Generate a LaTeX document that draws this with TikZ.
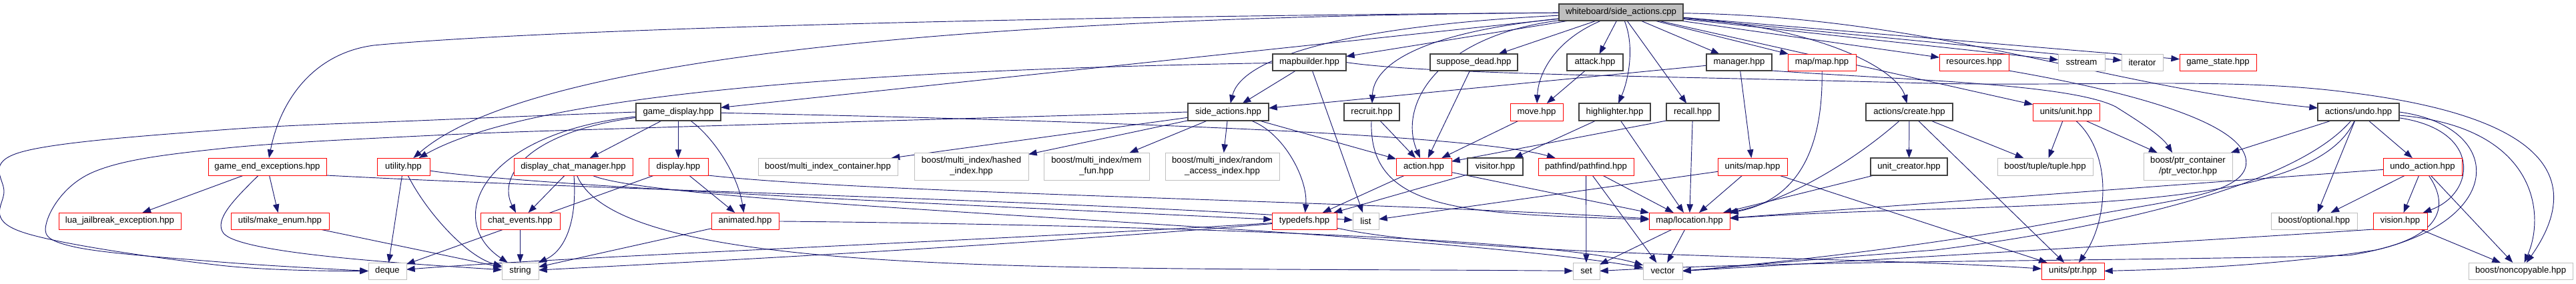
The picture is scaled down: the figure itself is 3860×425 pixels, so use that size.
\documentclass[tikz,border=0pt]{standalone}
\usepackage{fontspec}
\setmainfont{Liberation Sans}
\usetikzlibrary{arrows.meta}
\pgfdeclarelayer{bg}
\pgfsetlayers{bg,main}
\definecolor{edgecol}{HTML}{191970}
\definecolor{grayb}{HTML}{BFBFBF}
\definecolor{darkb}{HTML}{404040}
\definecolor{redb}{HTML}{FF0000}
\definecolor{rootfill}{HTML}{BFBFBF}
\tikzset{
  nbase/.style={fill=white, inner sep=0pt, outer sep=0pt, align=center, font=\fontsize{9.87pt}{12pt}\selectfont},
  blk/.style={nbase, draw=darkb, line width=0.85pt},
  rdb/.style={nbase, draw=redb, line width=0.6pt},
  gry/.style={nbase, draw=grayb, line width=0.75pt},
  rootst/.style={nbase, draw=darkb, fill=rootfill, line width=0.85pt},
  e/.style={draw=edgecol, line width=0.7pt, -{Triangle[length=9.5pt,width=7pt]}},
}
\newcommand{\nd}[7]{\node[#6, minimum width={(#3-#2)*0.75pt}, minimum height={(#5-#4)*0.75pt}] (#1) at ({(#2+#3)/2},{(#4+#5)/2}) {#7};}
\begin{document}
\begin{tikzpicture}[x=0.75pt,y=-0.75pt]
\useasboundingbox (0,0) rectangle (3860,425);
% row 0
\nd{root}{2336}{2522}{6}{31}{rootst}{whiteboard/side\_actions.cpp}
% row 1
\nd{mapbuilder}{1907}{2017}{81}{106}{blk}{mapbuilder.hpp}
\nd{suppose}{2143}{2274}{81}{106}{blk}{suppose\_dead.hpp}
\nd{attack}{2348}{2432}{81}{106}{blk}{attack.hpp}
\nd{manager}{2557}{2655}{81}{106}{blk}{manager.hpp}
\nd{mapmap}{2679}{2781}{81}{106}{rdb}{map/map.hpp}
\nd{resources}{2906}{3010}{81}{106}{rdb}{resources.hpp}
\nd{sstream}{3084}{3154}{81}{106}{gry}{sstream}
\nd{iterator}{3179}{3241}{81}{106}{gry}{iterator}
\nd{gamestate}{3266}{3381}{81}{106}{rdb}{game\_state.hpp}
% row 2
\nd{gamedisplay}{953}{1080}{155}{181}{blk}{game\_display.hpp}
\nd{sideh}{1780}{1901}{155}{181}{blk}{side\_actions.hpp}
\nd{recruit}{2014}{2097}{155}{181}{blk}{recruit.hpp}
\nd{move}{2263}{2342}{155}{181}{rdb}{move.hpp}
\nd{highlighter}{2366}{2473}{155}{181}{blk}{highlighter.hpp}
\nd{recall}{2497}{2576}{155}{181}{blk}{recall.hpp}
\nd{create}{2796}{2926}{155}{181}{blk}{actions/create.hpp}
\nd{unit}{3046}{3146}{155}{181}{rdb}{units/unit.hpp}
\nd{undo}{3473}{3595}{155}{181}{blk}{actions/undo.hpp}
% row 3
\nd{gee}{312}{489}{237}{263}{rdb}{game\_end\_exceptions.hpp}
\nd{utility}{565}{644}{237}{263}{rdb}{utility.hpp}
\nd{dcm}{770}{948}{237}{263}{rdb}{display\_chat\_manager.hpp}
\nd{display}{972}{1061}{237}{263}{rdb}{display.hpp}
\nd{mic}{1136}{1345}{237}{263}{gry}{boost/multi\_index\_container.hpp}
\nd{hashed}{1370}{1541}{229}{270}{gry}{boost/multi\_index/hashed\\\_index.hpp}
\nd{memfun}{1564}{1722}{229}{270}{gry}{boost/multi\_index/mem\\\_fun.hpp}
\nd{random}{1746}{1917}{229}{270}{gry}{boost/multi\_index/random\\\_access\_index.hpp}
\nd{action}{2092}{2175}{237}{263}{rdb}{action.hpp}
\nd{visitor}{2199}{2282}{237}{263}{blk}{visitor.hpp}
\nd{pathfind}{2305}{2448}{237}{263}{rdb}{pathfind/pathfind.hpp}
\nd{unitsmap}{2574}{2678}{237}{263}{rdb}{units/map.hpp}
\nd{unitcreator}{2803}{2918}{237}{263}{blk}{unit\_creator.hpp}
\nd{tuple}{2993}{3136}{237}{263}{gry}{boost/tuple/tuple.hpp}
\nd{ptrvec}{3212}{3345}{229}{270}{gry}{boost/ptr\_container\\/ptr\_vector.hpp}
\nd{undoaction}{3571}{3689}{237}{263}{rdb}{undo\_action.hpp}
% row 4
\nd{lua}{88}{271}{319}{344}{rdb}{lua\_jailbreak\_exception.hpp}
\nd{makeenum}{346}{493}{319}{344}{rdb}{utils/make\_enum.hpp}
\nd{chatevents}{720}{839}{319}{344}{rdb}{chat\_events.hpp}
\nd{animated}{1066}{1167}{319}{344}{rdb}{animated.hpp}
\nd{typedefs}{1906}{2003}{319}{344}{rdb}{typedefs.hpp}
\nd{list}{2027}{2066}{319}{344}{gry}{list}
\nd{location}{2471}{2592}{319}{344}{rdb}{map/location.hpp}
\nd{optional}{3403}{3532}{319}{344}{gry}{boost/optional.hpp}
\nd{vision}{3556}{3637}{319}{344}{rdb}{vision.hpp}
% row 5
\nd{deque}{552}{609}{394}{419}{gry}{deque}
\nd{string}{752}{807}{394}{419}{gry}{string}
\nd{set}{2357}{2397}{394}{419}{gry}{set}
\nd{vector}{2462}{2521}{394}{419}{gry}{vector}
\nd{ptr}{3059}{3153}{394}{419}{rdb}{units/ptr.hpp}
\nd{noncopyable}{3699}{3855}{394}{419}{gry}{boost/noncopyable.hpp}

\begin{pgfonlayer}{bg}
% left loops
\draw[e] plot[smooth, tension=0.6] coordinates {(sideh.west) (1300,182) (960,192) (650,203) (330,223) (140,258) (70,333) (110,370) (330,393) (deque.west)};
\draw[e] plot[smooth, tension=0.6] coordinates {(gamedisplay.west) (650,180) (330,195) (32,228) (6,287) (33,348) (330,398) (deque.west)};
% root
\draw[e] (root) .. controls (1500,25) and (800,45) .. (560,68) .. controls (470,80) and (420,150) .. (gee);
\draw[e] (root) .. controls (1500,25) and (800,80) .. (utility);
\draw[e] (root) -- (gamedisplay);
\draw[e] (root) .. controls (2000,40) and (1860,90) .. (sideh);
\draw[e] (root) -- (mapbuilder);
\draw[e] (root) .. controls (2120,50) and (2058,100) .. (recruit);
\draw[e] (root) .. controls (2150,55) and (2095,160) .. (action);
\draw[e] (root) -- (suppose);
\draw[e] (root) .. controls (2330,60) and (2305,110) .. (move);
\draw[e] (root) -- (attack);
\draw[e] (root) .. controls (2450,70) and (2440,120) .. (highlighter);
\draw[e] (root) -- (recall);
\draw[e] (root) -- (manager);
\draw[e] (root) -- (mapmap);
\draw[e] (root) .. controls (2750,45) and (2845,110) .. (create);
\draw[e] (root) -- (resources);
\draw[e] (root) -- (unit);
\draw[e] (root) -- (sstream);
\draw[e] (root) -- (iterator);
\draw[e] (root) -- (gamestate);
\draw[e] (root) .. controls (2900,25) and (3150,130) .. (undo);
% mapbuilder
\draw[e] (mapbuilder) -- (sideh);
\draw[e] (mapbuilder) .. controls (1300,105) and (800,140) .. (utility);
\draw[e] (mapbuilder) -- (list);
\draw[e] (mapbuilder.east) .. controls (2140,112) and (2500,114) .. (2890,125) .. controls (3150,130) and (3350,115) .. (3530,140) .. controls (3800,175) and (3880,260) .. (noncopyable);
% manager
\draw[e] (manager) -- (sideh);
\draw[e] (manager) -- (unitsmap);
\draw[e] (manager.south east) .. controls (2850,120) and (3100,125) .. (3170,160) .. controls (3210,185) and (3240,205) .. ([xshift=-17.6pt]ptrvec.north);
% side_actions.hpp
\draw[e] (sideh) -- (mic);
\draw[e] (sideh) -- (hashed);
\draw[e] (sideh) -- (memfun);
\draw[e] (sideh) -- (random);
\draw[e] (sideh) -- (action);
\draw[e] (sideh) .. controls (1925,200) and (1960,270) .. (typedefs);
% game_display.hpp
\draw[e] (gamedisplay) -- (display);
\draw[e] (gamedisplay) .. controls (1068,205) and (1105,260) .. (animated);
\draw[e] (gamedisplay) -- (dcm);
\draw[e] (gamedisplay) .. controls (790,198) and (745,265) .. (chatevents);
\draw[e] (gamedisplay) .. controls (720,200) and (665,330) .. (string);
\draw[e] (gamedisplay) .. controls (1600,180) and (2200,200) .. (pathfind);
% utility
\draw[e] (utility) -- (deque);
\draw[e] (utility) .. controls (640,320) and (700,385) .. (string);
\draw[e] (utility) .. controls (800,280) and (1500,310) .. (typedefs);
% game_end_exceptions
\draw[e] (gee) -- (lua);
\draw[e] (gee) -- (makeenum);
\draw[e] (gee) .. controls (350,300) and (320,330) .. (335,350) .. controls (360,380) and (600,395) .. (string);
\draw[e] (gee.south east) .. controls (900,285) and (1600,300) .. (list);
\draw[e] (makeenum) -- (string);
% display_chat_manager
\draw[e] (dcm) -- (chatevents);
\draw[e] (dcm) .. controls (865,330) and (848,375) .. (string);
\draw[e] (dcm) .. controls (930,420) and (1600,400) .. (set);
\draw[e] (dcm) .. controls (990,310) and (2100,340) .. (vector);
\draw[e] (chatevents) -- (string);
% display
\draw[e] (display) -- (animated);
\draw[e] (display) -- (deque);
\draw[e] (display.south east) .. controls (1300,290) and (2000,300) .. (location);
% animated
\draw[e] (animated) -- (string);
\draw[e] (animated) .. controls (1500,335) and (2300,350) .. (vector);
% typedefs
\draw[e] (typedefs) .. controls (1500,370) and (1000,395) .. (string);
\draw[e] (typedefs) .. controls (1500,360) and (850,385) .. (deque);
\draw[e] (typedefs) .. controls (2200,385) and (2800,385) .. (ptr);
% action etc
\draw[e] (action) -- (typedefs);
\draw[e] (action) -- (location);
\draw[e] (visitor) -- (typedefs);
\draw[e] (suppose) -- (action);
\draw[e] (attack) -- (move);
\draw[e] (move) -- (action);
\draw[e] (recruit) -- (action);
\draw[e] (recruit) .. controls (2050,320) and (2200,320) .. (location);
\draw[e] (highlighter) -- (visitor);
\draw[e] (highlighter) -- (location);
\draw[e] (recall.south west) -- (action);
\draw[e] (recall) -- (location);
\draw[e] (mapmap) .. controls (2732,230) and (2690,300) .. (location);
% pathfind
\draw[e] (pathfind) -- (set);
\draw[e] (pathfind) -- (vector);
\draw[e] (pathfind) -- (location);
% location
\draw[e] (location) -- (set);
\draw[e] (location) -- (vector);
% units/map
\draw[e] (unitsmap) -- (location);
\draw[e] (unitsmap) -- (ptr);
\draw[e] (unitsmap) -- (list);
% create
\draw[e] (create) -- (unitcreator);
\draw[e] (create) .. controls (2780,240) and (2680,300) .. (location);
\draw[e] (create) -- (tuple);
\draw[e] (create) -- (ptr);
\draw[e] (unitcreator) -- (location);
% unit
\draw[e] (unit) -- (tuple);
\draw[e] (unit) .. controls (3165,230) and (3160,330) .. (ptr);
\draw[e] (unit) -- (ptrvec);
% resources
\draw[e] (resources.south east) .. controls (3150,130) and (3380,180) .. (3365,250) .. controls (3355,290) and (3260,300) .. (3150,320) .. controls (2900,370) and (2650,395) .. (vector.east);
% undo
\draw[e] (undo) -- (ptrvec);
\draw[e] (undo) -- (undoaction);
\draw[e] (undo) .. controls (3720,195) and (3710,290) .. (vision);
\draw[e] (undo) .. controls (3800,190) and (3815,320) .. (noncopyable);
\draw[e] (undo) -- (optional);
\draw[e] (undo) .. controls (3460,330) and (3000,300) .. (location);
\draw[e] (undo) .. controls (3430,290) and (3100,350) .. (2900,375) .. controls (2700,390) and (2600,400) .. (vector.east);
\draw[e] (undo.east) .. controls (3760,190) and (3760,345) .. (3520,383) .. controls (3200,392) and (2700,390) .. (set.east);
% undo_action
\draw[e] (undoaction) -- (vision);
\draw[e] (undoaction) -- (optional);
\draw[e] (undoaction) -- (noncopyable);
\draw[e] (undoaction) -- (location);
\draw[e] (undoaction) .. controls (3665,300) and (3670,350) .. (3560,375) .. controls (3400,400) and (3250,404) .. (ptr.east);
% vision
\draw[e] (vision) -- (noncopyable);
\draw[e] (vision.south west) .. controls (3400,355) and (2800,390) .. (vector.east);
\end{pgfonlayer}
\end{tikzpicture}
\end{document}
